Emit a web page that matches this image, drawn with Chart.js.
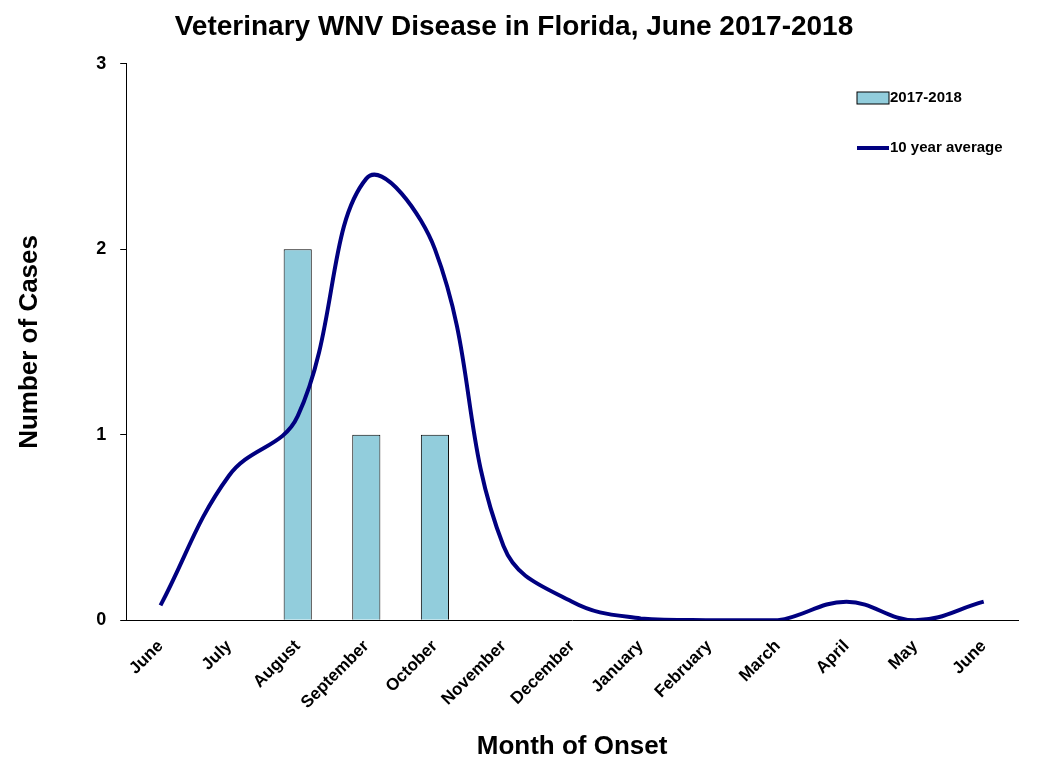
<!DOCTYPE html>
<html><head><meta charset="utf-8">
<script src="https://cdn.jsdelivr.net/npm/chart.js@4"></script>
<style>html,body{margin:0;background:#fff}#w{width:1052px;height:774px}</style>
</head><body><div id="w"><canvas id="c"></canvas></div>
<script>
const months=["June","July","August","September","October","November","December","January","February","March","April","May","June"];
const cases2017=[null,null,2,1,1,null,null,null,null,null,null,null,null];
const avg10=[0.08,0.78,1.1,2.38,2.0,0.4,0.1,0.01,0.0,0.0,0.1,0.0,0.1];
const yTicks=[0,1,2,3];
const F="'Liberation Sans', Arial, sans-serif";
const legendPlugin={id:'lg',afterDraw(ch){const c=ch.ctx;c.save();
c.fillStyle='#92CDDC';c.strokeStyle='#000';c.lineWidth=1;c.fillRect(857,92,32,12);c.strokeRect(857,92,32,12);
c.strokeStyle='#000080';c.lineWidth=4;c.beginPath();c.moveTo(857,148);c.lineTo(889,148);c.stroke();
c.fillStyle='#000';c.font='bold 15px '+F;c.textBaseline='middle';c.fillText('2017-2018',890,98);c.fillText('10 year average',890,148);c.restore();}};
new Chart(document.getElementById('c'),{
data:{labels:months,datasets:[
{type:'line',label:'10 year average',data:avg10,borderColor:'#000080',borderWidth:4,pointRadius:0,tension:0.4,order:0},
{type:'bar',label:'2017-2018',data:cases2017,backgroundColor:'#92CDDC',borderColor:'#000',borderWidth:1,barPercentage:0.41,categoryPercentage:1,order:1}]},
options:{responsive:true,maintainAspectRatio:false,animation:false,
layout:{padding:{left:10,right:34,top:0,bottom:8}},
plugins:{legend:{display:false},tooltip:{enabled:false},
title:{display:true,text:'Veterinary WNV Disease in Florida, June 2017-2018',color:'#000',font:{family:F,size:28,weight:'bold'},padding:{top:10,bottom:20}}},
scales:{
x:{offset:true,grid:{display:false},border:{color:'#000',width:1},
ticks:{color:'#000',font:{family:F,size:17,weight:'bold'},maxRotation:45,minRotation:45,padding:8},
title:{display:true,text:'Month of Onset',color:'#000',font:{family:F,size:26,weight:'bold'},padding:{top:10}}},
y:{min:0,max:3,afterBuildTicks(a){a.ticks=yTicks.map(v=>({value:v}));},grid:{drawOnChartArea:false,drawTicks:true,tickLength:6,color:'#000'},
border:{color:'#000',width:1},
ticks:{color:'#000',font:{family:F,size:18,weight:'bold'},padding:14},
title:{display:true,text:'Number of Cases',color:'#000',font:{family:F,size:26,weight:'bold'},padding:{bottom:37}}}}},
plugins:[legendPlugin]});
</script></body></html>
